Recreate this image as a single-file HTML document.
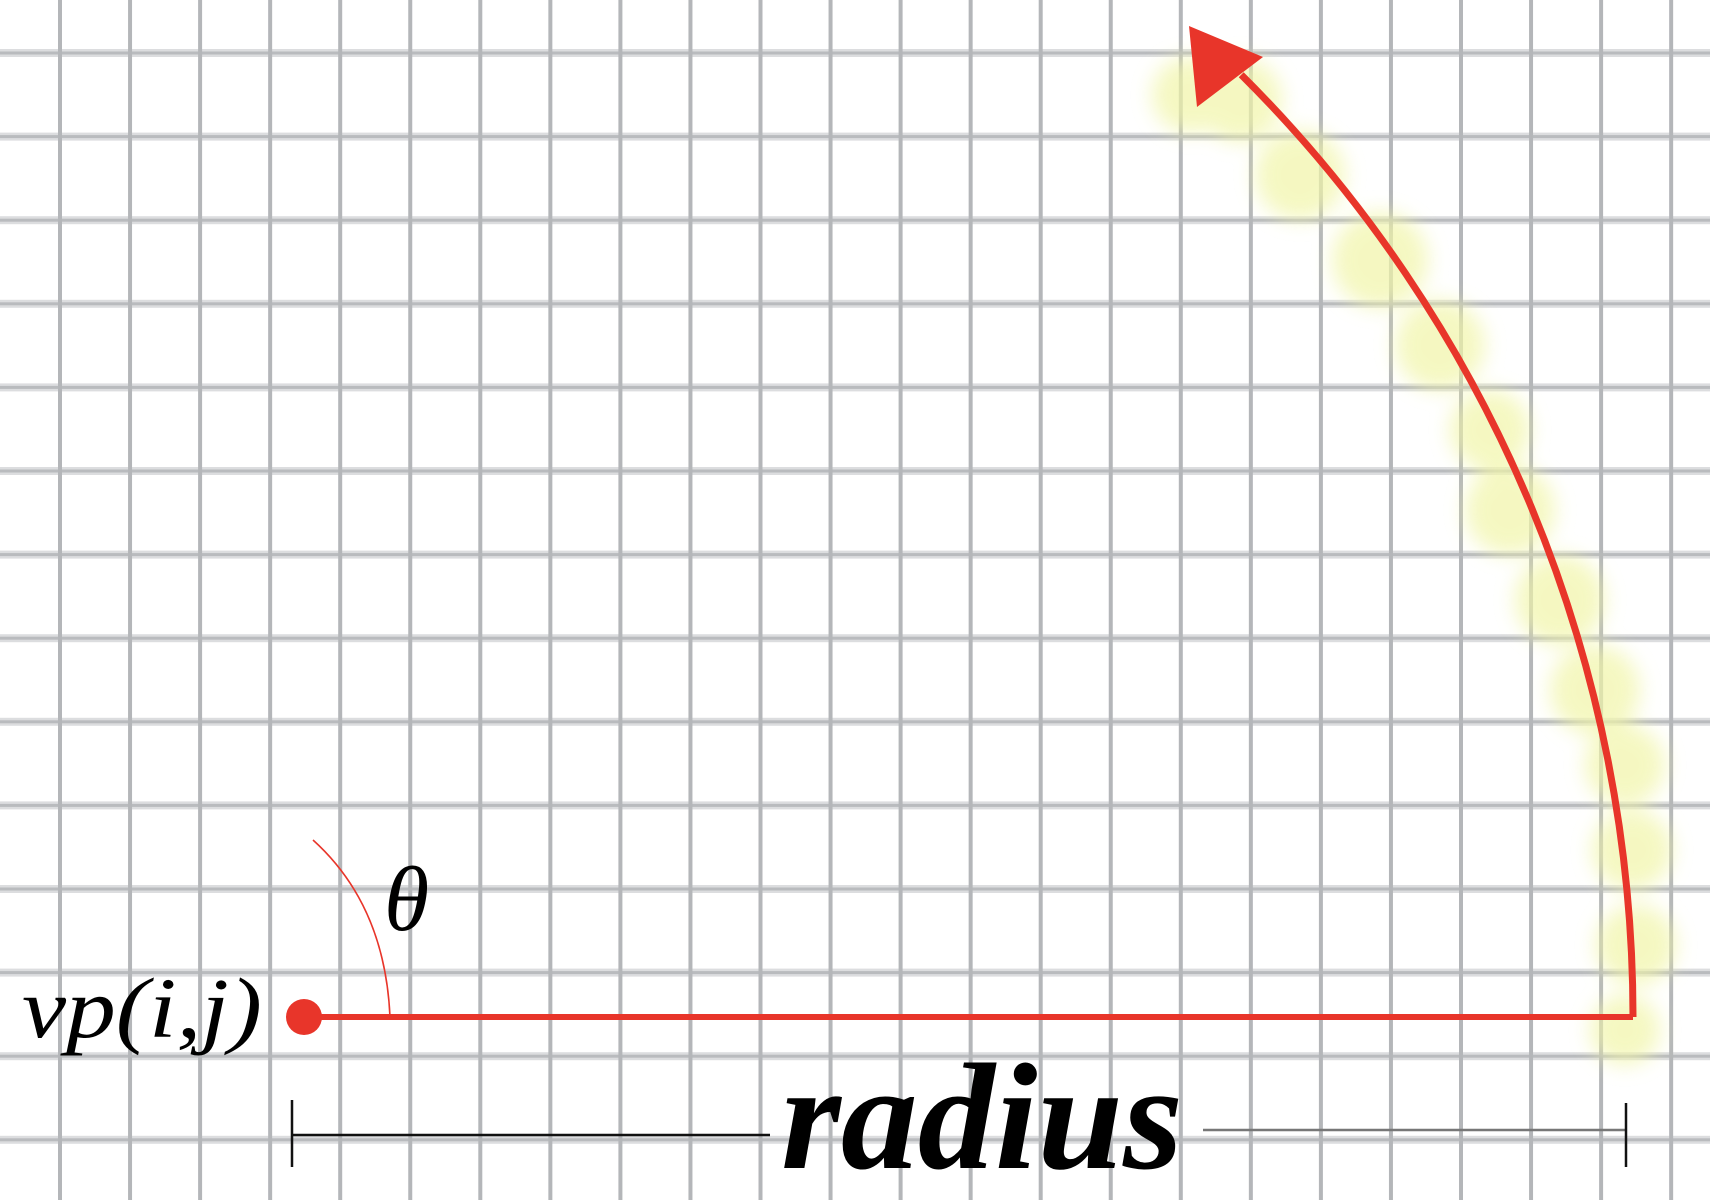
<!DOCTYPE html>
<html><head><meta charset="utf-8"><style>
html,body{margin:0;padding:0;background:#fff;}
svg{display:block;}
.serif{font-family:"Liberation Serif","Times New Roman",serif;font-style:italic;}
</style></head><body>
<svg id="fig" width="1710" height="1200" viewBox="0 0 1710 1200" xmlns="http://www.w3.org/2000/svg">
<defs>
<filter id="blur" x="-50%" y="-50%" width="200%" height="200%"><feGaussianBlur stdDeviation="10"/></filter>
</defs>
<rect width="1710" height="1200" fill="#fff"/>
<g id="grid"></g>
<g id="glow" filter="url(#blur)" opacity="0.7"></g>
<path d="M313,840 Q385,905 390,1017" fill="none" stroke="#e8352a" stroke-width="1.6"/>
<line x1="304" y1="1017" x2="1633" y2="1017" stroke="#e8352a" stroke-width="6"/>
<path id="arc" fill="none" stroke="#e8352a" stroke-width="7"/>
<polygon points="1189,26 1263,57 1197,107" fill="#e8352a"/>
<circle cx="304" cy="1017" r="18" fill="#e8352a"/>
<text class="serif" x="22" y="1037" font-size="86" fill="#000" textLength="240" lengthAdjust="spacingAndGlyphs">vp(i,j)</text>
<text class="serif" x="384" y="930" font-size="92" fill="#000">θ</text>
<g stroke="#111">
<line x1="292" y1="1100" x2="292" y2="1167" stroke-width="2.5"/>
<line x1="292" y1="1135" x2="770" y2="1135" stroke-width="2.5"/>
<line x1="1203" y1="1130" x2="1626" y2="1130" stroke-width="2.5" stroke="#777"/>
<line x1="1626" y1="1103" x2="1626" y2="1167" stroke-width="2.5"/>
</g>
<text class="serif" x="781" y="1168" font-weight="bold" font-size="152" fill="#000" textLength="402" lengthAdjust="spacingAndGlyphs">radius</text>
</svg>
<script>
const NS="http://www.w3.org/2000/svg";
const grid=document.getElementById('grid');
const vx0=60, vdx=70.05, vcount=24;
const hy0=53, hdy=83.6, hcount=14;
for(let i=0;i<hcount;i++){
  const y=hy0+i*hdy;
  const l=document.createElementNS(NS,'rect');
  
  
  l.setAttribute('x',0);l.setAttribute('y',y-4);l.setAttribute('width',1710);l.setAttribute('height',8);
  l.setAttribute('fill','#dcdddf');grid.appendChild(l);
  const c=document.createElementNS(NS,'rect');
  
  
  c.setAttribute('x',0);c.setAttribute('y',y-1.5);c.setAttribute('width',1710);c.setAttribute('height',3);
  c.setAttribute('fill','#b9bbbe');grid.appendChild(c);
}
for(let i=0;i<vcount;i++){
  const x=vx0+i*vdx;
  const l=document.createElementNS(NS,'rect');
  
  
  l.setAttribute('x',x-2);l.setAttribute('y',0);l.setAttribute('width',4);l.setAttribute('height',1200);
  l.setAttribute('fill','#b4b6b9');grid.appendChild(l);
}
const cx=304, cy=1017, R=1329;
const endAng=Math.atan2(cy-80,1236-cx);
document.getElementById('arc').setAttribute('d',
 `M${cx+R},${cy} A${R},${R} 0 0 0 ${cx+R*Math.cos(endAng)},${cy-R*Math.sin(endAng)}`);
const glow=document.getElementById('glow');
const blobs=[[1190,95,38],[1240,100,42],[1300,175,45],[1380,260,48],[1440,345,45],[1490,430,40],[1510,510,45],[1560,600,45],[1595,690,45],[1625,765,40],[1632,850,40],[1636,945,40],[1625,1030,35]];
for(const b of blobs){
  const c=document.createElementNS(NS,'circle');
  
  
  c.setAttribute('cx',b[0]);c.setAttribute('cy',b[1]);c.setAttribute('r',b[2]);
  c.setAttribute('fill','#f1f5a8');glow.appendChild(c);
}
</script>
</body></html>
